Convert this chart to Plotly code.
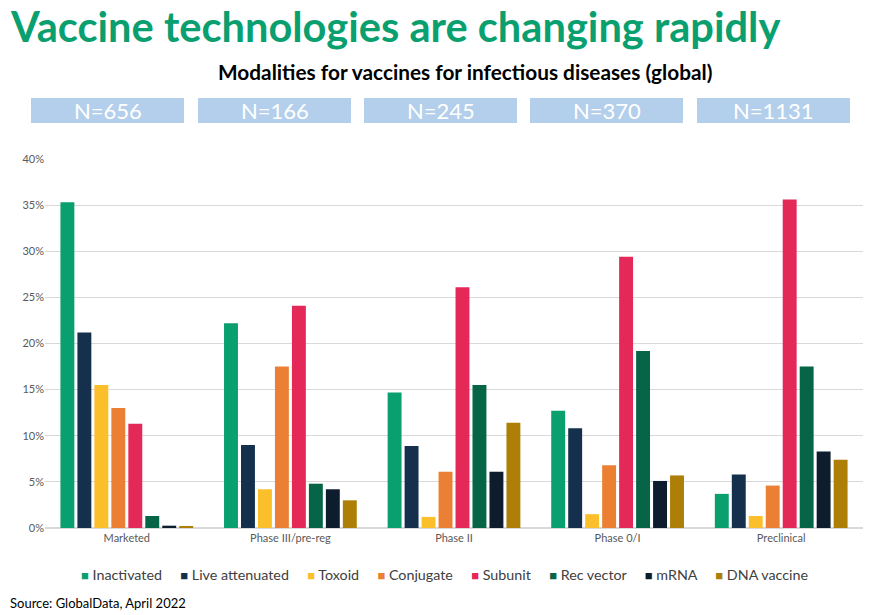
import plotly.graph_objects as go

# stages on the x axis
stages = ["Marketed", "Phase III/pre-reg", "Phase II", "Phase 0/I", "Preclinical"]
n_labels = ["N=656", "N=166", "N=245", "N=370", "N=1131"]

# share of vaccines per modality (%)
inactivated = [35.3, 22.2, 14.7, 12.7, 3.7]
live_attenuated = [21.2, 9.0, 8.9, 10.8, 5.8]
toxoid = [15.5, 4.2, 1.2, 1.5, 1.3]
conjugate = [13.0, 17.5, 6.1, 6.8, 4.6]
subunit = [11.3, 24.1, 26.1, 29.4, 35.6]
rec_vector = [1.3, 4.8, 15.5, 19.2, 17.5]
mrna = [0.25, 4.2, 6.1, 5.1, 8.3]
dna_vaccine = [0.15, 3.0, 11.4, 5.7, 7.4]

series = [
    ("Inactivated", inactivated, "#0A9F6F"),
    ("Live attenuated", live_attenuated, "#14304D"),
    ("Toxoid", toxoid, "#FBBF2B"),
    ("Conjugate", conjugate, "#EB7F33"),
    ("Subunit", subunit, "#E42858"),
    ("Rec vector", rec_vector, "#066447"),
    ("mRNA", mrna, "#0D1D2D"),
    ("DNA vaccine", dna_vaccine, "#AD7F07"),
]

W, H = 876, 615
L, R, T, B = 45, 13, 159, 87
pw = W - L - R
ph = H - T - B

def px(x):
    return (x - L) / pw

def py(y):
    return (H - B - y) / ph

fig = go.Figure()
for name, vals, color in series:
    fig.add_trace(go.Bar(x=stages, y=[v / 100 for v in vals], name=name,
                         marker=dict(color=color, line=dict(width=0))))

# N= boxes above each stage
box_left = [31, 198, 364, 530, 697]
box_w = 153
for left, lab in zip(box_left, n_labels):
    fig.add_shape(type="rect", xref="paper", yref="paper",
                  x0=px(left), x1=px(left + box_w), y0=py(123), y1=py(98),
                  fillcolor="#B4CFEB", line=dict(width=0), layer="below")
    fig.add_annotation(xref="paper", yref="paper", x=px(left + box_w / 2), y=py(111),
                       text=lab, showarrow=False, xanchor="center", yanchor="middle",
                       font=dict(family="Lato", size=22, color="white"))

# legend built as a single line of text, like the original
sq = '<span style="color:{c};font-size:13px">■</span> {n}'
legend_text = "&nbsp;&nbsp;&nbsp;&nbsp;&nbsp;".join(sq.format(c=c, n=n) for n, _, c in series)
fig.add_annotation(xref="paper", yref="paper", x=px(444), y=py(574), text=legend_text,
                   showarrow=False, xanchor="center", yanchor="middle",
                   font=dict(family="Lato", size=14.3, color="#404040"))

# title, subtitle, source
fig.add_annotation(xref="paper", yref="paper", x=px(8), y=py(26), text="<b>Vaccine technologies are changing rapidly</b>",
                   showarrow=False, xanchor="left", yanchor="middle",
                   font=dict(family="Lato", size=41.6, color="#0A9F6F"))
fig.add_annotation(xref="paper", yref="paper", x=px(465), y=py(72),
                   text="<b>Modalities for vaccines for infectious diseases (global)</b>",
                   showarrow=False, xanchor="center", yanchor="middle",
                   font=dict(family="Lato", size=20.8, color="black"))
fig.add_annotation(xref="paper", yref="paper", x=px(8), y=py(603), text="Source: GlobalData, April 2022",
                   showarrow=False, xanchor="left", yanchor="middle",
                   font=dict(family="Lato", size=13, color="black"))

fig.update_layout(
    width=W, height=H,
    margin=dict(l=L, r=R, t=T, b=B),
    plot_bgcolor="white", paper_bgcolor="white",
    barmode="group", bargap=0.17, bargroupgap=0.18,
    showlegend=False,
    font=dict(family="Lato", color="#595959"),
)
fig.update_yaxes(range=[0, 0.4], dtick=0.05, tickformat=".0%", gridcolor="#D9D9D9",
                 zeroline=True, zerolinecolor="#D9D9D9", tickfont=dict(size=11, color="#595959"),
                 ticks="", showline=False)
fig.update_xaxes(tickfont=dict(size=11, color="#595959"), showline=True, linecolor="#D9D9D9", ticks="")

fig.write_html("out.html", config={"displayModeBar": False},
               post_script="document.body.style.margin='0';")
